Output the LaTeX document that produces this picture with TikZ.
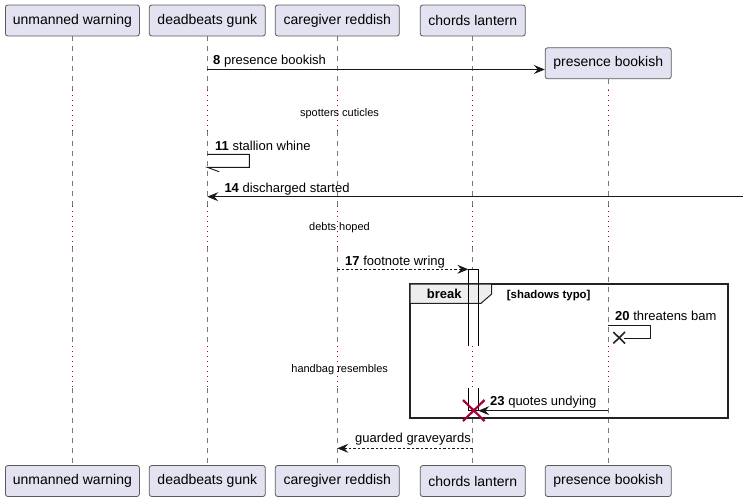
\documentclass[tikz,border=0pt]{standalone}
\usepackage{fontspec}
\setmainfont{Liberation Sans}
\usetikzlibrary{arrows.meta}
\definecolor{pfill}{HTML}{E2E2F0}
\definecolor{pline}{HTML}{5A5A5A}
\definecolor{lline}{HTML}{7A7A7A}
\definecolor{dcol}{HTML}{A80036}
\definecolor{tabfill}{HTML}{EEEEEE}
\definecolor{fline}{HTML}{222222}
\begin{document}
\begin{tikzpicture}[x=1pt,y=-1pt,
  part/.style={draw=pline, fill=pfill, rounded corners=2.5pt, line width=0.8pt, inner sep=0pt, minimum height=31pt, font=\fontsize{14}{16}\selectfont},
  life/.style={draw=lline, line width=0.8pt, dash pattern=on 5pt off 5pt},
  delayl/.style={draw=dcol, line width=1.3pt, dash pattern=on 1.3pt off 3.7pt},
  msgline/.style={line width=0.9pt, draw=black!90},
  msg/.style={msgline, -{Stealth[length=11pt,width=9pt,inset=4pt]}},
  rmsg/.style={msg, dash pattern=on 2.5pt off 2pt},
  lbl/.style={anchor=base west, inner sep=0pt, font=\fontsize{13}{15}\selectfont},
  dlbl/.style={anchor=base, inner sep=0pt, font=\fontsize{11}{13}\selectfont},
  actbox/.style={draw=black, line width=0.9pt},
  xmark/.style={line width=1.6pt, draw=black!85},
  rxmark/.style={line width=2.2pt, draw=dcol}
]
\useasboundingbox (0,0) rectangle (743,501);
% participants top
\node[part, minimum width=134pt] (uw) at (72.4,20.5) {unmanned warning};
\node[part, minimum width=116pt] (dg) at (207.3,20.5) {deadbeats gunk};
\node[part, minimum width=124pt] (cr) at (337.3,20.5) {caregiver reddish};
\node[part, minimum width=105pt] (cl) at (472.8,20.5) {chords lantern};
\node[part, minimum width=126pt] (pb) at (608.2,63.3) {presence bookish};
% participants bottom
\node[part, minimum width=134pt] (uwb) at (72.4,481) {unmanned warning};
\node[part, minimum width=116pt] (dgb) at (207.3,481) {deadbeats gunk};
\node[part, minimum width=124pt] (crb) at (337.3,481) {caregiver reddish};
\node[part, minimum width=105pt] (clb) at (472.8,481) {chords lantern};
\node[part, minimum width=126pt] (pbb) at (608.2,481) {presence bookish};
% lifelines
\foreach \t/\b in {uw/uwb, dg/dgb, cr/crb, cl/clb, pb/pbb}{
  \draw[life] (\t.south) -- (\t.south |- 0,90);
  \draw[delayl] (\t.south |- 0,90) -- (\t.south |- 0,131);
  \draw[life] (\t.south |- 0,131) -- (\t.south |- 0,206);
  \draw[delayl] (\t.south |- 0,206) -- (\t.south |- 0,247);
  \draw[life] (\t.south |- 0,247) -- (\t.south |- 0,346);
  \draw[delayl] (\t.south |- 0,346) -- (\t.south |- 0,388);
  \draw[life] (\t.south |- 0,388) -- (\b.north);
}
% activation fills
\fill[white] (468.3,269.3) rectangle (478.3,346);
\fill[white] (468.3,387.5) rectangle (478.3,410.7);
\draw[delayl] (cl.south |- 0,346) -- (cl.south |- 0,388);
% break frame
\draw[line width=1.8pt, draw=fline] (410,284) rectangle (728.3,418.3);
\filldraw[fill=tabfill, draw=fline, line width=1pt] (410,284) -- (491.7,284) -- (491.7,294) -- (481,303.3) -- (410,303.3) -- cycle;
\node[anchor=base west, inner sep=0pt, font=\bfseries\fontsize{13}{15}\selectfont] (brk) at (426.7,298.3) {break};
\node[anchor=base west, inner sep=0pt, font=\bfseries\fontsize{11.4}{13}\selectfont] (brkc) at (506.7,298.3) {[shadows typo]};
% activation outlines
\draw[actbox] (468.3,346) -- (468.3,269.3) -- (478.3,269.3) -- (478.3,346);
\draw[actbox] (468.3,387.5) -- (468.3,410.7) -- (478.3,410.7) -- (478.3,387.5);
% message 8
\draw[msg] (dg.south |- 0,69.5) -- (pb.west |- 0,69.5);
\node[lbl] (m8) at (213,64.5) {\textbf{8} presence bookish};
% delay 1
\node[dlbl] (d1) at (339.5,116) {spotters cuticles};
% message 11
\draw[msgline] (dg.south |- 0,154.3) -- (249.3,154.3) -- (249.3,167.3) -- (dg.south |- 0,167.3) -- ++(12,4.5);
\node[lbl] (m11) at (215,150) {\textbf{11} stallion whine};
% message 14
\coordinate (ext) at (743,196.7);
\draw[msg] (ext) -- (dg.south |- ext);
\node[lbl] (m14) at (224.3,192.5) {\textbf{14} discharged started};
% delay 2
\node[dlbl] (d2) at (339.5,230.5) {debts hoped};
% message 17
\draw[rmsg] (cr.south |- 0,269.3) -- (468.3,269.3);
\node[lbl] (m17) at (345,265) {\textbf{17} footnote wring};
% message 20
\draw[msgline] (pb.south |- 0,325.7) -- (650.3,325.7) -- (650.3,338.3) -- (624,338.3);
\draw[xmark] (613.3,332) -- (625,343.5) (613.3,343.5) -- (625,332);
\node[lbl] (m20) at (615,320.7) {\textbf{20} threatens bam};
% delay 3
\node[dlbl] (d3) at (339.7,372) {handbag resembles};
% message 23
\draw[msg] (pb.south |- 0,410.7) -- (478.3,410.7);
\node[lbl] (m23) at (490,405.7) {\textbf{23} quotes undying};
\draw[rxmark] (463,400) -- (484.5,421) (463,421) -- (484.5,400);
% return
\draw[rmsg] (cl.south |- 0,448.3) -- (cr.south |- 0,448.3);
\node[lbl] (mg) at (355,442.3) {guarded graveyards};
\end{tikzpicture}
\end{document}
